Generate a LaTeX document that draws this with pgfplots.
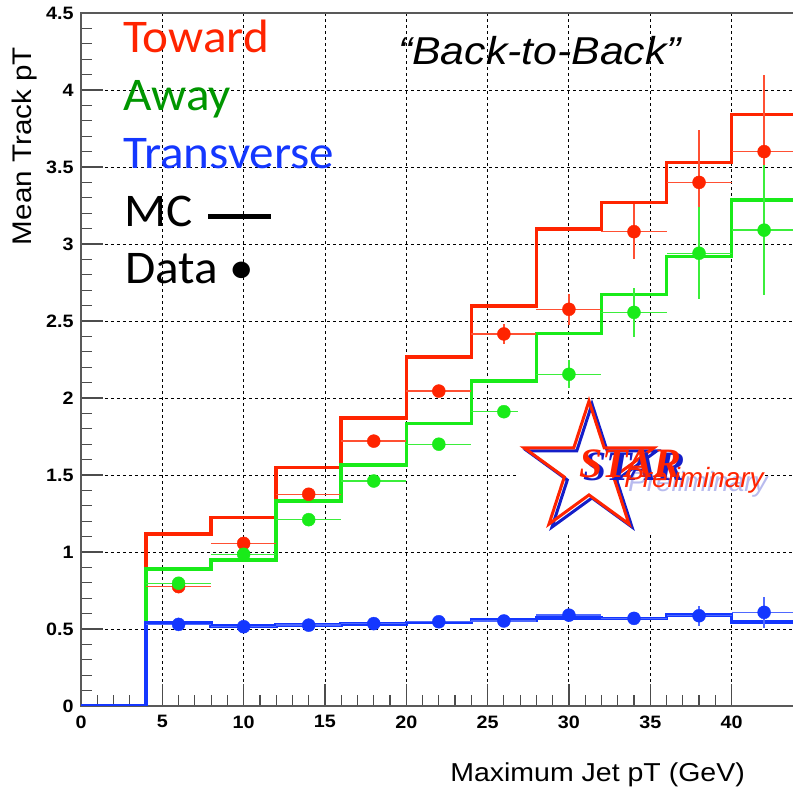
\documentclass[border=0pt]{standalone}
\usepackage{fontspec}
\setmainfont{Liberation Sans}
\newfontfamily\rootfont[FakeStretch=1.1]{Liberation Sans}
\newfontfamily\carlito[FakeStretch=1.05]{Carlito}
\newfontfamily\lserif{Liberation Serif}
\usepackage{pgfplots}
\usepackage{pgfplotstable}
\pgfplotsset{compat=1.18}
\usetikzlibrary{shapes.geometric}

\definecolor{cred}{RGB}{255,36,0}
\definecolor{cgreen}{RGB}{25,235,25}
\definecolor{cgreentxt}{RGB}{0,150,0}
\definecolor{cblue}{RGB}{20,55,255}
\definecolor{starblue}{RGB}{20,30,200}

% MC histograms (bin low edge, value)
\pgfplotstableread{
x y
0 0
4 1.117
8 1.223
12 1.55
16 1.87
20 2.265
24 2.597
28 3.097
32 3.27
36 3.53
40 3.84
43.9 3.84
}\mctoward
\pgfplotstableread{
x y
0 0
4 0.89
8 0.948
12 1.331
16 1.565
20 1.836
24 2.112
28 2.42
32 2.673
36 2.918
40 3.286
43.9 3.286
}\mcaway
\pgfplotstableread{
x y
0 0
4 0.538
8 0.52
12 0.525
16 0.532
20 0.541
24 0.56
28 0.572
32 0.569
36 0.59
40 0.547
43.9 0.547
}\mctrans
% Data points
\pgfplotstableread{
x y ex ey
6 0.775 2 0.03
10 1.056 2 0.03
14 1.375 2 0.03
18 1.72 2 0.03
22 2.045 2 0.03
26 2.416 2 0.065
30 2.576 2 0.10
34 3.08 2 0.18
38 3.40 2 0.34
42 3.60 2 0.50
}\datatoward
\pgfplotstableread{
x y ex ey
6 0.797 2 0.02
10 0.985 2 0.02
14 1.21 2 0.02
18 1.461 2 0.02
22 1.70 2 0.02
26 1.911 2 0.04
30 2.154 2 0.09
34 2.556 2 0.16
38 2.94 2 0.30
42 3.09 2 0.42
}\dataaway
\pgfplotstableread{
x y ex ey
6 0.53 2 0.01
10 0.515 2 0.01
14 0.525 2 0.01
18 0.535 2 0.01
22 0.547 2 0.01
26 0.552 2 0.015
30 0.59 2 0.02
34 0.569 2 0.02
38 0.586 2 0.065
42 0.608 2 0.10
}\datatrans

\begin{document}
\begin{tikzpicture}
\begin{axis}[
  name=ax,
  scale only axis,
  width=714bp, height=693bp,
  xmin=0, xmax=43.9, ymin=0, ymax=4.5,
  xtick={0,5,...,40},
  ytick={0,0.5,...,4.5},
  minor x tick num=4,
  minor y tick num=4,
  tick align=inside,
  tick pos=left,
  major tick length=22bp,
  minor tick length=11bp,
  tick style={black!70, line width=1.2bp},
  axis line style={black!65, line width=1.5bp},
  grid=major,
  major grid style={black, line width=0.9bp, dash pattern=on 3bp off 3bp},
  /pgf/number format/assume math mode=true,
  ticklabel style={font=\rootfont\bfseries\fontsize{18}{18}\selectfont},
  xticklabel style={yshift=-6bp},
  yticklabel style={xshift=-4bp},
  clip=true,
]
\addplot[const plot, cred, line width=3.5bp] table[x=x,y=y] {\mctoward};
\addplot[const plot, cgreen, line width=3.5bp] table[x=x,y=y] {\mcaway};
\addplot[const plot, cblue, line width=3.5bp] table[x=x,y=y] {\mctrans};

\addplot[only marks, mark=*, mark size=6.5bp, cred,
  error bars/.cd, x dir=both, x explicit, y dir=both, y explicit,
  error mark=none, error bar style={line width=1.3bp, cred!80!white}]
  table[x=x,y=y,x error=ex,y error=ey] {\datatoward};
\addplot[only marks, mark=*, mark size=6.5bp, cgreen,
  error bars/.cd, x dir=both, x explicit, y dir=both, y explicit,
  error mark=none, error bar style={line width=1.3bp, cgreen!85!white}]
  table[x=x,y=y,x error=ex,y error=ey] {\dataaway};
\addplot[only marks, mark=*, mark size=6.5bp, cblue,
  error bars/.cd, x dir=both, x explicit, y dir=both, y explicit,
  error mark=none, error bar style={line width=1.3bp, cblue!75!white}]
  table[x=x,y=y,x error=ex,y error=ey] {\datatrans};
\end{axis}

% STAR Preliminary logo (white background patch, star, text)
\fill[white] ([shift={(437bp,171bp)}]ax.south west) rectangle ([shift={(634bp,307bp)}]ax.south west);
\fill[white] ([shift={(634bp,216bp)}]ax.south west) rectangle ([shift={(681bp,246bp)}]ax.south west);
\node[star, star points=5, star point ratio=2.62, minimum size=136bp, inner sep=0pt,
  draw=starblue, line width=3bp] at ([shift={(511bp,234bp)}]ax.south west) {};
\node[star, star points=5, star point ratio=2.62, minimum size=136bp, inner sep=0pt,
  draw=cred, line width=3bp] at ([shift={(508bp,237bp)}]ax.south west) {};
\node[anchor=base west, inner sep=0pt, text=starblue, font=\lserif\bfseries\itshape\fontsize{42}{42}\selectfont]
  at ([shift={(502bp,225bp)}]ax.south west) {STAR};
\node[anchor=base west, inner sep=0pt, text=cred, font=\lserif\bfseries\itshape\fontsize{42}{42}\selectfont]
  at ([shift={(498bp,228bp)}]ax.south west) {STAR};
\node[anchor=base west, inner sep=0pt, text=starblue, opacity=0.3, font=\itshape\fontsize{28}{28}\selectfont]
  at ([shift={(547bp,214bp)}]ax.south west) {Preliminary};
\node[anchor=base west, inner sep=0pt, text=cred, font=\itshape\fontsize{28}{28}\selectfont]
  at ([shift={(543bp,218bp)}]ax.south west) {Preliminary};

% Legend-like texts
\node[anchor=base west, inner sep=0pt, text=cred, font=\carlito\fontsize{47}{47}\selectfont]
  at ([shift={(42bp,653bp)}]ax.south west) {Toward};
\node[anchor=base west, inner sep=0pt, text=cgreentxt, font=\carlito\fontsize{47}{47}\selectfont]
  at ([shift={(42bp,595bp)}]ax.south west) {Away};
\node[anchor=base west, inner sep=0pt, text=cblue, font=\carlito\fontsize{47}{47}\selectfont]
  at ([shift={(42bp,537.5bp)}]ax.south west) {Transverse};
\node[anchor=base west, inner sep=0pt, text=black, font=\carlito\fontsize{47}{47}\selectfont]
  at ([shift={(43bp,479.3bp)}]ax.south west) {MC\hspace{16bp}\rule[7.5bp]{63bp}{5bp}};
\node[anchor=base west, inner sep=0pt, text=black, font=\carlito\fontsize{47}{47}\selectfont]
  at ([shift={(44bp,422.7bp)}]ax.south west) {Data •};

\node[anchor=base west, inner sep=0pt, font=\rootfont\itshape\fontsize{39}{39}\selectfont]
  at ([shift={(317bp,641bp)}]ax.south west) {“Back-to-Back”};

% Axis titles
\node[anchor=base east, inner sep=0pt, font=\rootfont\fontsize{26}{26}\selectfont]
  at ([shift={(664bp,-75bp)}]ax.south west) {Maximum Jet pT (GeV)};
\node[anchor=base east, rotate=90, inner sep=0pt, font=\rootfont\fontsize{27}{27}\selectfont]
  at ([shift={(-49bp,659bp)}]ax.south west) {Mean Track pT};

\pgfresetboundingbox
\path[use as bounding box] ([shift={(-81bp,-85bp)}]ax.south west) rectangle ([shift={(712bp,706bp)}]ax.south west);
\end{tikzpicture}
\end{document}
